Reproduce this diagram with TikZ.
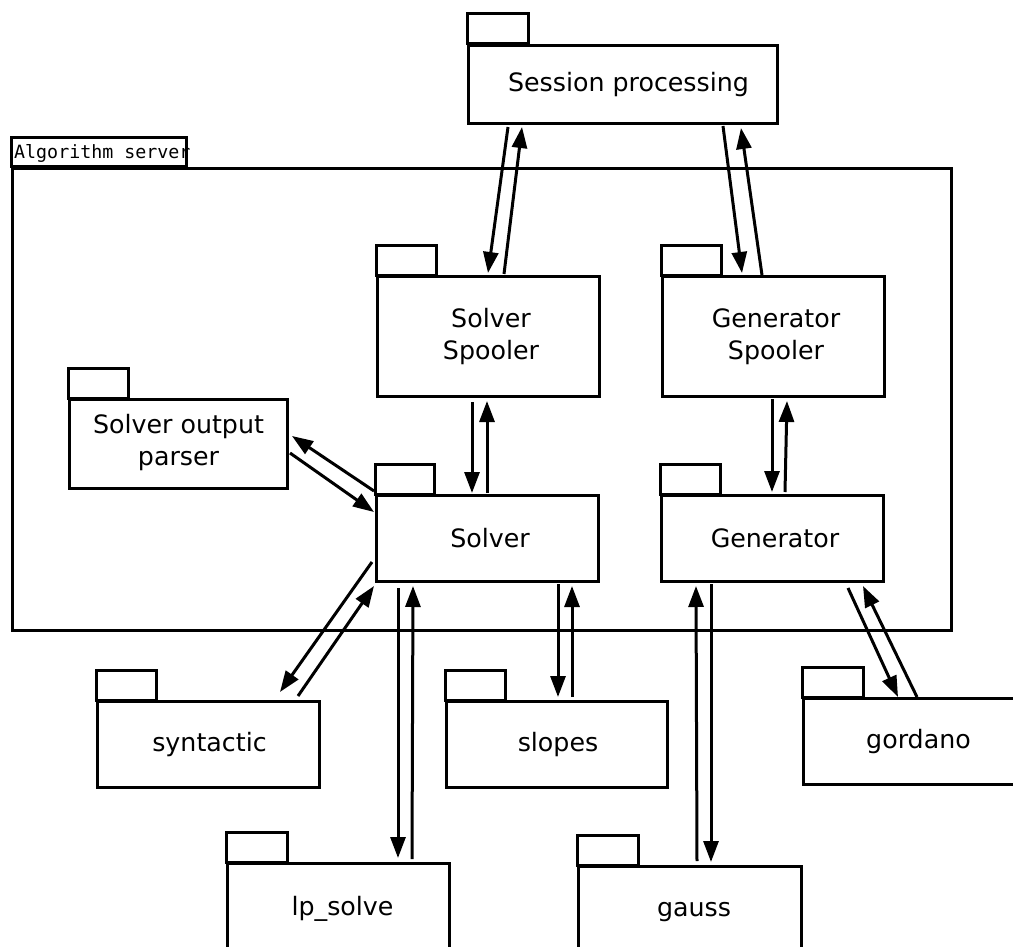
\documentclass[tikz,border=0pt]{standalone}
\usepackage{fontspec}
\setmainfont{DejaVu Sans}
\newfontfamily\labmono{DejaVu Sans Mono}
\usetikzlibrary{arrows.meta,calc}
\begin{document}
\begin{tikzpicture}[x=1pt,y=-1pt,
  pkg/.style={draw=black,line width=3pt,fill=white,rectangle,anchor=north west,
    minimum width=222pt,minimum height=86pt,inner sep=0pt,align=center,
    font=\fontsize{25.3}{32}\selectfont},
  tab/.style={draw=black,line width=3pt},
  conn/.style={line width=3pt,-{Triangle[length=21pt,width=15pt]}}
]
\clip (0,0) rectangle (1013,947);
\useasboundingbox (0,0) rectangle (1013,947);
\fill[white] (0,0) rectangle (1013,947);

% Algorithm server
\node[anchor=west,inner sep=0pt,font=\labmono\fontsize{18.3}{20}\selectfont] (alglabel) at (14,153) {Algorithm server};
\draw[tab] (11,138) rectangle (186,167);
\node[draw=black,line width=3pt,anchor=north west,minimum width=939pt,minimum height=462pt,inner sep=0pt] (server) at (11,167) {};

% packages
\node[pkg,minimum width=309pt,minimum height=78pt] (sess) at (467,44) {\hspace*{11pt}Session processing};
\draw[tab] (sess.north west) rectangle ++(61,-30);

\node[pkg,minimum height=120pt] (sspool) at (376,275) {\hspace*{5pt}Solver\\\hspace*{5pt}Spooler};
\draw[tab] (sspool.north west) rectangle ++(60,-30);

\node[pkg,minimum height=120pt] (gspool) at (661,275) {\hspace*{5pt}Generator\\\hspace*{5pt}Spooler};
\draw[tab] (gspool.north west) rectangle ++(60,-30);

\node[pkg,minimum width=218pt,minimum height=89pt,text depth=9pt] (parser) at (68,398) {Solver output\\parser};
\draw[tab] (parser.north west) rectangle ++(60,-30);

\node[pkg] (solver) at (375,494) {\hspace*{5pt}Solver};
\draw[tab] (solver.north west) rectangle ++(59,-30);

\node[pkg] (gen) at (660,494) {\hspace*{5pt}Generator};
\draw[tab] (gen.north west) rectangle ++(60,-30);

\node[pkg] (synt) at (96,700) {\hspace*{2pt}syntactic};
\draw[tab] (synt.north west) rectangle ++(60,-30);

\node[pkg,minimum width=221pt] (slopes) at (445,700) {\hspace*{2pt}slopes};
\draw[tab] (slopes.north west) rectangle ++(60,-30);

\node[pkg] (gord) at (802,697) {\hspace*{8pt}gordano};
\draw[tab] (gord.north west) rectangle ++(61,-30);

\node[pkg,minimum height=92pt,text depth=8pt] (lp) at (226,862) {\hspace*{8pt}lp\_solve};
\draw[tab] (lp.north west) rectangle ++(61,-30);

\node[pkg,minimum width=223pt,minimum height=92pt,text depth=6pt] (gauss) at (577,865) {\hspace*{8pt}gauss};
\draw[tab] (gauss.north west) rectangle ++(61,-30);

% connectors
\draw[conn] ($(sess.south west)+(41,2)$) -- ($(sspool.north west)+(112,-2)$);
\draw[conn] ($(sspool.north west)+(128,-1)$) -- ($(sess.south west)+(55,2)$);
\draw[conn] ($(sess.south west)+(256,1)$) -- ($(gspool.north west)+(81,-2)$);
\draw[conn] ($(gspool.north west)+(101,0)$) -- ($(sess.south west)+(274,3)$);

\draw[conn] ($(sspool.south west)+(96,4)$) -- ($(solver.north west)+(97,-1)$);
\draw[conn] ($(solver.north west)+(112,-1)$) -- ($(sspool.south west)+(111,3)$);
\draw[conn] ($(gspool.south west)+(111,1)$) -- ($(gen.north west)+(112,-2)$);
\draw[conn] ($(gen.north west)+(125,-2)$) -- ($(gspool.south west)+(126,3)$);

\draw[conn] ($(solver.north west)+(-1,-3)$) -- ($(parser.north east)+(3,38)$);
\draw[conn] ($(parser.north east)+(1,55)$) -- ($(solver.north west)+(-1,18)$);

\draw[conn] ($(solver.south west)+(-3,-21)$) -- ($(synt.north west)+(184,-8)$);
\draw[conn] ($(synt.north west)+(202,-4)$) -- ($(solver.south west)+(-1,3)$);

\draw[conn] ($(solver.south west)+(23,5)$) -- ($(lp.north west)+(172,-4)$);
\draw[conn] ($(lp.north west)+(186,-3)$) -- ($(solver.south west)+(38,3)$);

\draw[conn] ($(solver.south west)+(183,1)$) -- ($(slopes.north west)+(113,-3)$);
\draw[conn] ($(slopes.north west)+(127,-3)$) -- ($(solver.south west)+(197,3)$);

\draw[conn] ($(gauss.north west)+(120,-4)$) -- ($(gen.south west)+(36,3)$);
\draw[conn] ($(gen.south west)+(51,1)$) -- ($(gauss.north west)+(134,-3)$);

\draw[conn] ($(gen.south west)+(188,5)$) -- ($(gord.north west)+(96,0)$);
\draw[conn] ($(gord.north west)+(115,0)$) -- ($(gen.south west)+(203,3)$);
\end{tikzpicture}
\end{document}
